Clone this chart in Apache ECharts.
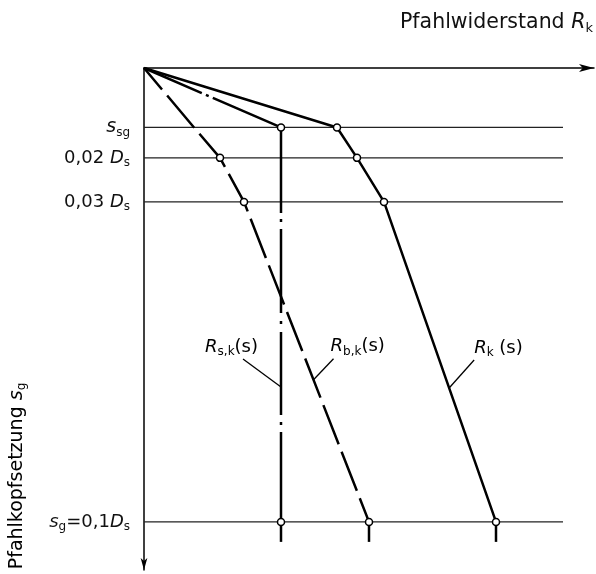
<!DOCTYPE html>
<html><head><meta charset="utf-8">
<script src="https://cdn.jsdelivr.net/npm/echarts@6/dist/echarts.min.js"></script>
<style>html,body{margin:0;padding:0;background:#fff}#c{width:596px;height:574px}</style>
</head><body><div id="c"></div><script>
// Settlement levels (units of D_s): origin, s_sg, 0.02Ds, 0.03Ds, 0.1Ds
const sVals = [0, 0.0131, 0.0198, 0.0295, 0.1];
// Resistances (arbitrary units) at those settlements
const Rs = [0, 137, 137, 137, 137];   // R_s,k(s) shaft
const Rb = [0, 50, 76, 100, 225];     // R_b,k(s) base
const Rk = [0, 193, 213, 240, 352];   // R_k(s) total
// Which points carry a small open circle
const RsMarks = [1, 4];
const RbMarks = [2, 3, 4];
const RkMarks = [1, 2, 3, 4];
// Horizontal reference levels and their tick labels
const refLevels = [0.0131, 0.0198, 0.0295, 0.1];
const tickLabels = ['{itb|s}{sub|sg}', '{n|0,02 }{it|D}{sub|s}', '{n|0,03 }{it|D}{sub|s}', '{it|s}{sub|g}{n|=0,1}{it|D}{sub|s}'];
const refLineEnd = 419;
const xTitle = '{n|Pfahlwiderstand }{it|R}{sub|k}';
const yTitle = '{n|Pfahlkopfsetzung }{it|s}{sub|g}';
const curveLabels = ['{it|R}{sub|s,k}{n|(s)}', '{it|R}{sub|b,k}{n|(s)}', '{it|R}{sub|k}{n| (s)}'];
const curveLabelAt = [0.0703, 0.0687, 0.0705];

const FONT = 'DejaVu Sans';
const INK = '#111';
const rich = {
  n: {fontFamily: FONT, fontSize: 18, fontWeight: 'normal', color: INK, lineHeight: 22},
  it: {fontFamily: FONT, fontSize: 18, fontWeight: 'normal', fontStyle: 'italic', color: INK, lineHeight: 22},
  itb: {fontFamily: FONT, fontSize: 19, fontWeight: 'normal', fontStyle: 'italic', color: INK, lineHeight: 22},
  sub: {fontFamily: FONT, fontSize: 12, fontWeight: 'normal', color: INK, lineHeight: 8, verticalAlign: 'bottom'}
};
const richTitle = {
  n: {fontFamily: FONT, fontSize: 20.5, fontWeight: 'normal', color: INK, lineHeight: 24},
  it: {fontFamily: FONT, fontSize: 20.5, fontWeight: 'normal', fontStyle: 'italic', color: INK, lineHeight: 24},
  sub: {fontFamily: FONT, fontSize: 13, fontWeight: 'normal', color: INK, lineHeight: 8, verticalAlign: 'bottom'}
};

function pts(R, marks) {
  return sVals.map((s, i) => ({value: [R[i], s], symbol: marks.includes(i) ? 'circle' : 'none'}));
}
const markerStyle = {color: '#fff', borderColor: '#000', borderWidth: 1.5};

const series = [];
refLevels.forEach((s) => {
  series.push({type: 'line', data: [[0, s], [refLineEnd, s]], symbol: 'none', silent: true, z: 1,
    lineStyle: {color: '#222', width: 1.2}});
});
series.push({name: 'Rs', type: 'line', data: pts(Rs, RsMarks), symbolSize: 7, z: 3, itemStyle: markerStyle,
  lineStyle: {color: '#000', width: 2.5, type: [63, 4.5, 3, 4.5, 160, 6, 3, 7, 84, 8, 3, 8, 83, 7, 3, 7, 300]}});
series.push({name: 'Rb', type: 'line', data: pts(Rb, RbMarks), symbolSize: 7, z: 3, itemStyle: markerStyle,
  lineStyle: {color: '#000', width: 2.5, type: [42, 8], dashOffset: 14}});
series.push({name: 'Rk', type: 'line', data: pts(Rk, RkMarks), symbolSize: 7, z: 4, itemStyle: markerStyle,
  lineStyle: {color: '#000', width: 2.5}});

const chart = echarts.init(document.getElementById('c'));
chart.setOption({
  animation: false,
  backgroundColor: '#fff',
  title: {text: xTitle, left: 400, top: 11, padding: 0, textStyle: {fontWeight: 'normal', rich: richTitle}},
  grid: {left: 144, top: 68, width: 450, bottom: 4, containLabel: false, outerBoundsMode: 'none'},
  xAxis: {type: 'value', position: 'top', min: 0, max: 450,
    axisLine: {show: true, onZero: false, symbol: ['none', 'arrow'], symbolSize: [6, 15], lineStyle: {color: '#000', width: 1.5}},
    axisTick: {show: false}, axisLabel: {show: false}, splitLine: {show: false}},
  yAxis: {type: 'value', inverse: true, min: 0, max: 0.1106,
    axisLine: {show: true, onZero: false, symbol: ['arrow', 'none'], symbolSize: [5, 12], lineStyle: {color: '#000', width: 1.5}},
    axisTick: {show: false}, splitLine: {show: false},
    axisLabel: {show: true, customValues: refLevels, margin: 14, align: 'right', verticalAlign: 'middle',
      formatter: (v) => { let k = 0; refLevels.forEach((r, i) => { if (Math.abs(r - v) < Math.abs(refLevels[k] - v)) k = i; }); return tickLabels[k]; },
      rich: rich}},
  series: series
});

function interp(R, s) {
  for (let i = 0; i < sVals.length - 1; i++) {
    if (s >= sVals[i] && s <= sVals[i + 1]) {
      const t = (s - sVals[i]) / (sVals[i + 1] - sVals[i]);
      return R[i] + t * (R[i + 1] - R[i]);
    }
  }
  return R[R.length - 1];
}
const graphics = [];
// y-axis title
graphics.push({type: 'text', x: 17, y: 476, rotation: Math.PI / 2,
  style: {text: yTitle, rich: {
    n: {fontFamily: FONT, fontSize: 19, color: INK, lineHeight: 22},
    it: {fontFamily: FONT, fontSize: 19, fontStyle: 'italic', color: INK, lineHeight: 22},
    sub: {fontFamily: FONT, fontSize: 12, color: INK, lineHeight: 8, verticalAlign: 'bottom'}},
    align: 'center', verticalAlign: 'middle'}});
// short vertical ticks below the 0.1 D_s level
[Rs, Rb, Rk].forEach((R) => {
  const p = chart.convertToPixel({gridIndex: 0}, [R[R.length - 1], sVals[sVals.length - 1]]);
  graphics.push({type: 'line', z: 2, shape: {x1: p[0], y1: p[1] + 3, x2: p[0], y2: p[1] + 20},
    style: {stroke: '#000', lineWidth: 2.5}});
});
// curve labels with leader lines
const ann = [
  {R: Rs, dx: -38, dy: -28, tx: 15, align: 'right'},
  {R: Rb, dx: 20, dy: -21, tx: -3, align: 'left'},
  {R: Rk, dx: 25, dy: -28, tx: 0, align: 'left'}
];
ann.forEach((a, i) => {
  const s = curveLabelAt[i];
  const p = chart.convertToPixel({gridIndex: 0}, [interp(a.R, s), s]);
  const ex = p[0] + a.dx, ey = p[1] + a.dy;
  graphics.push({type: 'line', z: 2, shape: {x1: p[0], y1: p[1], x2: ex, y2: ey}, style: {stroke: '#000', lineWidth: 1.3}});
  graphics.push({type: 'text', z: 2, x: ex + a.tx, y: ey - 12,
    style: {text: curveLabels[i], rich: rich, align: a.align, verticalAlign: 'middle'}});
});
chart.setOption({graphic: graphics});
</script></body></html>
